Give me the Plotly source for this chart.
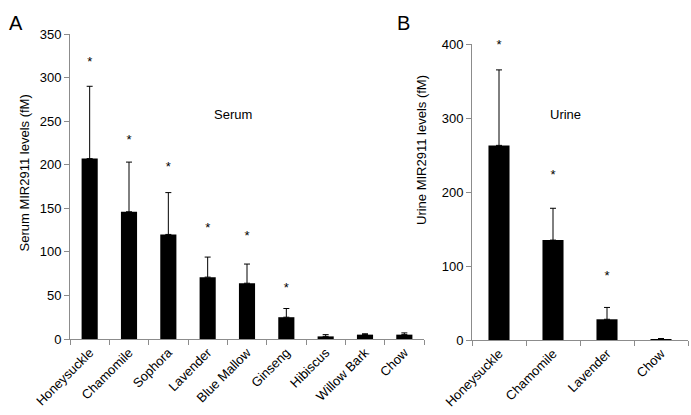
import plotly.graph_objects as go

serum_cats = ["Honeysuckle", "Chamomile", "Sophora", "Lavender", "Blue Mallow",
              "Ginseng", "Hibiscus", "Willow Bark", "Chow"]
serum_vals = [207, 146, 120, 71, 64, 25, 3, 5, 5]
serum_err = [83, 57, 48, 23, 22, 10, 2, 1, 2]
serum_star = [317, 228, 197, 126, 117, 58, None, None, None]

urine_cats = ["Honeysuckle", "Chamomile", "Lavender", "Chow"]
urine_vals = [263, 135, 28, 1]
urine_err = [102, 43, 16, 1]
urine_star = [397, 222, 85, None]

FONT = "Liberation Sans, Arial, sans-serif"
AXC = "#8c8c8c"

fig = go.Figure()

def add_panel(cats, vals, errs, stars, xa, ya, width):
    fig.add_trace(go.Bar(
        x=cats, y=vals, xaxis=xa, yaxis=ya, width=width,
        marker=dict(color="black", line=dict(width=0)),
        error_y=dict(type="data", array=errs, arrayminus=[0]*len(errs),
                     symmetric=False, color="black", thickness=1, width=3),
        showlegend=False))
    sx = [c for c, s in zip(cats, stars) if s is not None]
    sy = [s for s in stars if s is not None]
    fig.add_trace(go.Scatter(
        x=sx, y=sy, xaxis=xa, yaxis=ya, mode="text", text=["*"]*len(sx),
        textfont=dict(family=FONT, size=13, color="black"), cliponaxis=False,
        textposition="middle center", showlegend=False, hoverinfo="skip"))

add_panel(serum_cats, serum_vals, serum_err, serum_star, "x", "y", 0.41)
add_panel(urine_cats, urine_vals, urine_err, urine_star, "x2", "y2", 0.39)

W, H = 691, 415
axis_common = dict(showline=True, linecolor=AXC, linewidth=1, ticks="outside",
                   tickcolor=AXC, ticklen=5, showgrid=False, zeroline=False,
                   automargin=False,
                   tickfont=dict(family=FONT, size=13, color="black"))

fig.update_layout(
    width=W, height=H, margin=dict(l=0, r=0, t=0, b=0, autoexpand=False),
    paper_bgcolor="white", plot_bgcolor="white", bargap=0.6,
    xaxis=dict(domain=[70/W, 424/W], anchor="y", tickangle=-45,
               tickson="boundaries", **axis_common),
    yaxis=dict(domain=[1-339/H, 1-34/H], anchor="x", range=[0, 350], dtick=50,
               **axis_common),
    xaxis2=dict(domain=[472/W, 688/W], anchor="y2", tickangle=-45,
                tickson="boundaries", **axis_common),
    yaxis2=dict(domain=[1-340/H, 1-44/H], anchor="x2", range=[0, 400], dtick=100,
                **axis_common),
    annotations=[
        dict(text="A", x=7/W, y=1-10/H, xref="paper", yref="paper", showarrow=False,
             font=dict(family=FONT, size=20, color="black")),
        dict(text="B", x=403/W, y=1-10/H, xref="paper", yref="paper", showarrow=False,
             font=dict(family=FONT, size=20, color="black")),
        dict(text="Serum MIR2911 levels (fM)", x=14/W, y=1-173/H, xref="paper",
             yref="paper", showarrow=False, textangle=-90,
             font=dict(family=FONT, size=13, color="black")),
        dict(text="Urine MIR2911 levels (fM)", x=421/W, y=1-150/H, xref="paper",
             yref="paper", showarrow=False, textangle=-90,
             font=dict(family=FONT, size=13, color="black")),
        dict(text="Serum", x=233/W, y=1-105/H, xref="paper", yref="paper",
             showarrow=False, font=dict(family=FONT, size=13, color="black")),
        dict(text="Urine", x=583/W, y=1-105/H, xref="paper", yref="paper",
             showarrow=False, font=dict(family=FONT, size=13, color="black")),
    ],
)

fig.write_html("out.html", config={"displayModeBar": False},
               post_script="document.body.style.margin='0';")
